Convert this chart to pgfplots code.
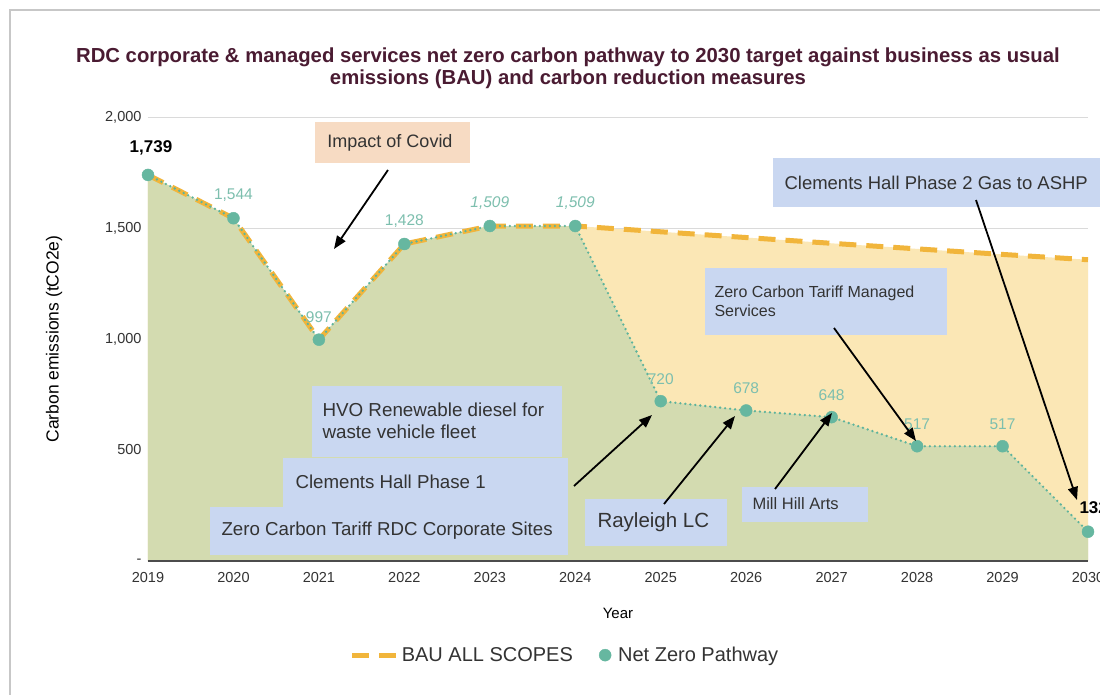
\documentclass[border=0pt]{standalone}
\usepackage{pgfplots}
\pgfplotsset{compat=1.18}
\usepackage{pgfplotstable}
\usepackage{fontspec}
\setmainfont{Liberation Sans}
\usetikzlibrary{arrows.meta}
\definecolor{bauFill}{HTML}{FBE7B5}
\definecolor{nzFill}{HTML}{D3DBB0}
\definecolor{bauLine}{HTML}{F1B53B}
\definecolor{nzLine}{HTML}{5DB39C}
\definecolor{nzMark}{HTML}{66B7A0}
\definecolor{nzLab}{HTML}{7DBFAE}
\definecolor{boxBlue}{HTML}{C9D7F1}
\definecolor{covidBox}{HTML}{F7DBC3}
\definecolor{titleCol}{HTML}{4A1B32}
\definecolor{gridCol}{HTML}{DADADA}
\definecolor{txtCol}{HTML}{333333}

\pgfplotstableread{
year bau
2019 1739
2020 1544
2021 997
2022 1428
2023 1509
2024 1509
2025 1483
2026 1457
2027 1431
2028 1406
2029 1381
2030 1357
}\bautable

\pgfplotstableread{
year nz lab
2019 1739 {}
2020 1544 {1,544}
2021 997 {997}
2022 1428 {1,428}
2023 1509 {\textit{1,509}}
2024 1509 {\textit{1,509}}
2025 720 {720}
2026 678 {678}
2027 648 {648}
2028 517 {517}
2029 517 {517}
2030 132 {}
}\nztable

\newcommand{\fs}[1]{\fontsize{#1}{\dimexpr #1pt*12/10\relax}\selectfont}

\begin{document}
\begin{tikzpicture}
\path[use as bounding box] (0,0) rectangle (1100pt,-695pt);
\fill[white] (0,0) rectangle (1100pt,-695pt);
\draw[black!22, line width=1.5pt] (10pt,-700pt) -- (10pt,-10pt) -- (1110pt,-10pt);

\begin{axis}[
  at={(148pt,-561pt)}, anchor=south west,
  scale only axis, width=940pt, height=444pt,
  xmin=2019, xmax=2030, ymin=0, ymax=2000,
  axis line style={draw=none},
  major tick length=0pt,
  ymajorgrids, grid style={draw=gridCol, line width=0.9pt},
  ytick={0,500,1000,1500,2000},
  yticklabels={-,500,{1,000},{1,500},{2,000}},
  xtick={2019,2020,2021,2022,2023,2024,2025,2026,2027,2028,2029,2030},
  xticklabels={2019,2020,2021,2022,2023,2024,2025,2026,2027,2028,2029,2030},
  /pgf/number format/assume math mode=true,
  tick label style={font=\fs{14.5}, text=txtCol},
  yticklabel style={xshift=-3pt},
  xticklabel style={yshift=-8pt},
  xlabel={Year}, ylabel={Carbon emissions (tCO2e)},
  xlabel style={at={(axis description cs:0.5,-0.117)}, anchor=center, font=\fs{15}, text=black},
  ylabel style={at={(axis description cs:-0.1,0.5)}, anchor=center, font=\fs{17.5}, text=black},
  clip=false,
  legend style={at={(axis description cs:0.4436,-0.212)}, anchor=center, draw=none,
    font=\fs{20}, text=txtCol, /tikz/every even column/.append style={column sep=24pt}},
  legend columns=2,
]
\addplot[draw=none, fill=bauFill, forget plot] table[x=year,y=bau]{\bautable} \closedcycle;
\addplot[draw=none, fill=nzFill, forget plot] table[x=year,y=nz]{\nztable} \closedcycle;
\draw[black!70, line width=1.2pt] (axis cs:2019,0) -- (axis cs:2030,0);
\addplot[bauLine, line width=5pt, dash pattern=on 17pt off 10pt, forget plot] table[x=year,y=bau]{\bautable};
\addplot[nzLine, line width=2.6pt, line cap=round, dash pattern=on 0pt off 5pt, forget plot] table[x=year,y=nz]{\nztable};
\addplot[only marks, mark=*, mark size=6pt, mark options={draw=nzMark, fill=nzMark}, forget plot,
  nodes near coords, point meta=explicit symbolic,
  every node near coord/.append style={font=\fs{15.5}, text=nzLab, anchor=south, yshift=13pt}]
  table[x=year,y=nz,meta=lab]{\nztable};
\node[font=\bfseries\fs{17}, anchor=south] at (axis cs:2019,1739) [xshift=3pt, yshift=16pt] {1,739};
\node[font=\bfseries\fs{17}, anchor=west] at (axis cs:2030,132) [xshift=-12pt, yshift=24pt] {132};
\addlegendimage{legend image code/.code={\draw[bauLine, line width=5pt, dash pattern=on 17pt off 10pt] (0pt,0pt) -- (45pt,0pt);}}
\addlegendentry{BAU ALL SCOPES}
\addlegendimage{legend image code/.code={\fill[nzMark] (6pt,0pt) circle (6pt); \path[draw=none,fill=none] (0pt,0pt) -- (17pt,0pt);}}
\addlegendentry{Net Zero Pathway}
\end{axis}

\begin{scope}[x=1pt,y=-1pt]
% title
\node[font=\bfseries\fs{20.3}, text=titleCol, align=center] at (568,68)
  {RDC corporate \& managed services net zero carbon pathway to 2030 target against business as usual\\[-2pt]
   emissions (BAU) and carbon reduction measures};
% boxes
\fill[covidBox] (315,122) rectangle (470,163);
\node[font=\fs{18}, text=txtCol] at (390,143) {Impact of Covid};
\fill[boxBlue] (773,158) rectangle (1110,207);
\node[font=\fs{18.5}, text=txtCol, anchor=west] at (781,183) {Clements Hall Phase 2 Gas to ASHP};
\fill[boxBlue] (705,268) rectangle (947,335);
\node[font=\fs{16}, text=txtCol, anchor=west, align=left] at (711,301) {Zero Carbon Tariff Managed\\[0pt] Services};
\fill[boxBlue] (312,386) rectangle (562,457);
\fill[boxBlue] (283,458) rectangle (568,507);
\fill[boxBlue] (210,507) rectangle (568,555);
\node[font=\fs{18.8}, text=txtCol, anchor=west, align=left] at (319,421) {HVO Renewable diesel for\\[-1pt] waste vehicle fleet};
\node[font=\fs{18.7}, text=txtCol, anchor=west] at (292,482) {Clements Hall Phase 1};
\node[font=\fs{18.7}, text=txtCol, anchor=west] at (218,531) {Zero Carbon Tariff RDC Corporate Sites};
\fill[boxBlue] (585,499) rectangle (727,546);
\node[font=\fs{20.5}, text=txtCol, anchor=west] at (594,522) {Rayleigh LC};
\fill[boxBlue] (742,487) rectangle (868,522);
\node[font=\fs{16.5}, text=txtCol, anchor=west] at (749,504) {Mill Hill Arts};
% arrows
\begin{scope}[black, line width=1.8pt, -{Triangle[length=13pt,width=10pt]}]
\draw (388,170) -- (334,249);
\draw (976,200) -- (1077,500);
\draw (834,328) -- (916,441);
\draw (574,486) -- (652,415);
\draw (664,504) -- (735,416);
\draw (775,489) -- (832,413);
\end{scope}
\end{scope}
\end{tikzpicture}
\end{document}
